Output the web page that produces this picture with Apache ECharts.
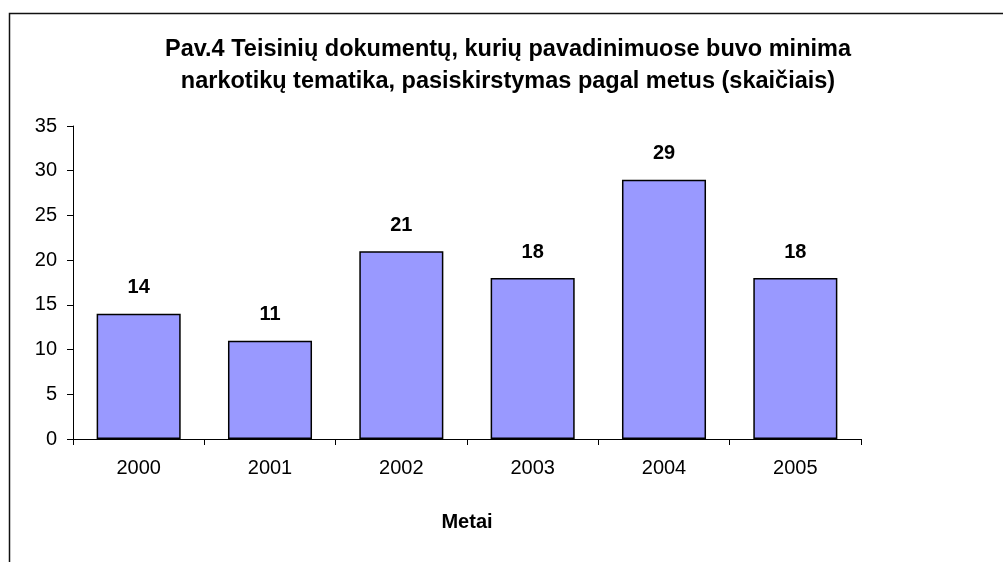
<!DOCTYPE html>
<html>
<head>
<meta charset="utf-8">
<script src="https://cdn.jsdelivr.net/npm/echarts@6/dist/echarts.min.js"></script>
<style>
  html, body { margin: 0; padding: 0; background: #fff; }
  #chart { width: 1003px; height: 562px; }
</style>
</head>
<body>
<div id="chart"></div>
<script>
var years = ['2000', '2001', '2002', '2003', '2004', '2005']
var counts = [14, 11, 21, 18, 29, 18]
var titleText = 'Pav.4 Teisinių dokumentų, kurių pavadinimuose buvo minima\nnarkotikų tematika, pasiskirstymas pagal metus (skaičiais)'

var myChart = echarts.init(document.getElementById('chart'), null, { renderer: 'canvas' })

var option = {
  animation: false,
  textStyle: { fontFamily: 'Liberation Sans, Arial, sans-serif' },
  graphic: [
    {
      type: 'rect',
      shape: { x: 9.5, y: 13.5, width: 1100, height: 700 },
      style: { fill: 'none', stroke: '#111', lineWidth: 1.5 }
    }
  ],
  title: {
    text: titleText,
    left: 503,
    textAlign: 'center',
    top: 29,
    textStyle: { fontSize: 23.5, fontWeight: 'bold', color: '#000', lineHeight: 32 }
  },
  grid: { left: 73, top: 126, right: 142, bottom: 123 },
  xAxis: {
    type: 'category',
    data: years,
    name: 'Metai',
    nameLocation: 'middle',
    nameGap: 73,
    nameTextStyle: { fontSize: 20, fontWeight: 'bold', color: '#000' },
    axisLine: { lineStyle: { color: '#000', width: 1 } },
    axisTick: { show: true, length: 6, alignWithLabel: false, lineStyle: { color: '#000' } },
    axisLabel: { fontSize: 20, color: '#000', margin: 19 }
  },
  yAxis: {
    type: 'value',
    min: 0,
    max: 35,
    interval: 5,
    splitLine: { show: false },
    axisLine: { show: true, lineStyle: { color: '#000', width: 1 } },
    axisTick: { show: true, length: 6, lineStyle: { color: '#000' } },
    axisLabel: { fontSize: 20, color: '#000', margin: 16 }
  },
  series: [
    {
      type: 'bar',
      data: counts,
      barCategoryGap: '36%',
      itemStyle: { color: '#9999FF', borderColor: '#000', borderWidth: 1.5 },
      label: {
        show: true,
        position: 'top',
        distance: 16,
        fontSize: 20,
        fontWeight: 'bold',
        color: '#000'
      }
    }
  ]
}

option && myChart.setOption(option)
</script>
</body>
</html>
